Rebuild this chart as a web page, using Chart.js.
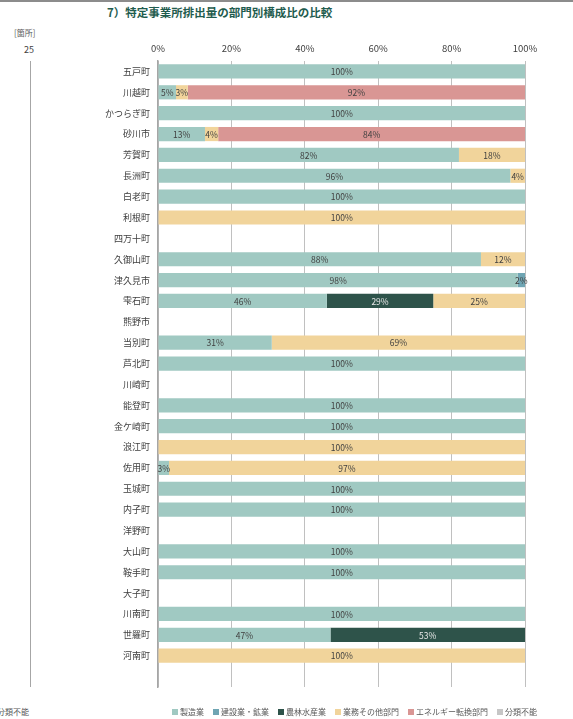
<!DOCTYPE html>
<html>
<head>
<meta charset="utf-8">
<script src="https://cdn.jsdelivr.net/npm/chart.js@4"></script>
<style>
  body { margin: 0; width: 573px; height: 719px; overflow: hidden; background: #fff;
         font-family: "Noto Sans CJK JP", "Noto Sans", sans-serif; position: relative; }
  .abs { position: absolute; white-space: nowrap; }
  #topline { left: 0; top: 0; width: 573px; height: 2px; background: #8c8c8c; }
  #title { left: 107px; top: 4px; font-size: 11.5px; font-weight: bold; color: #1f5c4e; }
  #unit { left: 14px; top: 27px; font-size: 8px; color: #595959; }
  #n25 { left: 24px; top: 43px; font-size: 9px; color: #404040; }
  #vline { left: 30px; top: 61px; width: 1px; height: 626px; background: #a6a6a6; }
  #oldleg { left: -3px; top: 706px; font-size: 8px; color: #595959; }
  #legend { left: 172px; top: 706px; display: flex; font-size: 8px; color: #595959; }
  #legend span.item { display: flex; align-items: center; margin-right: 9px; }
  #legend span.sw { width: 6px; height: 6px; margin-right: 2px; display: inline-block; }
  #cv { position: absolute; left: 0; top: 0; }
</style>
</head>
<body>
<div class="abs" id="topline"></div>
<div class="abs" id="title">7）特定事業所排出量の部門別構成比の比較</div>
<div class="abs" id="unit">[箇所]</div>
<div class="abs" id="n25">25</div>
<div class="abs" id="vline"></div>
<div class="abs" id="oldleg">分類不能</div>
<canvas id="cv" width="573" height="719"></canvas>
<div class="abs" id="legend"></div>
<script>
// categories (last one is an empty spacer row, as in the source figure)
const towns = ['五戸町', '川越町', 'かつらぎ町', '砂川市', '芳賀町', '長洲町', '白老町', '利根町', '四万十町', '久御山町',
  '津久見市', '雫石町', '熊野市', '当別町', '芦北町', '川崎町', '能登町', '金ケ崎町', '浪江町', '佐用町',
  '玉城町', '内子町', '洋野町', '大山町', '鞍手町', '大子町', '川南町', '世羅町', '河南町', ''];

const sectorNames = ['製造業', '建設業・鉱業', '農林水産業', '業務その他部門', 'エネルギー転換部門', '分類不能'];
const sectorColors = ['#a0c9c2', '#6fa5b3', '#2e534a', '#f1d49b', '#d99694', '#c6c6c6'];

// share of emissions (%) per town
const manufacturing = [100, 4.9, 100, 12.8, 82, 96, 100, 0, 0, 88, 98, 46, 0, 31, 100, 0, 100, 100, 0, 3, 100, 100, 0, 100, 100, 0, 100, 47, 0];
const construction  = [0, 0, 0, 0, 0, 0, 0, 0, 0, 0, 2, 0, 0, 0, 0, 0, 0, 0, 0, 0, 0, 0, 0, 0, 0, 0, 0, 0, 0];
const agriculture   = [0, 0, 0, 0, 0, 0, 0, 0, 0, 0, 0, 29, 0, 0, 0, 0, 0, 0, 0, 0, 0, 0, 0, 0, 0, 0, 0, 53, 0];
const commercial    = [0, 3.2, 0, 3.6, 18, 4, 0, 100, 0, 12, 0, 25, 0, 69, 0, 0, 0, 0, 100, 97, 0, 0, 0, 0, 0, 0, 0, 0, 100];
const energy        = [0, 91.9, 0, 83.6, 0, 0, 0, 0, 0, 0, 0, 0, 0, 0, 0, 0, 0, 0, 0, 0, 0, 0, 0, 0, 0, 0, 0, 0, 0];
const unclassified  = [0, 0, 0, 0, 0, 0, 0, 0, 0, 0, 0, 0, 0, 0, 0, 0, 0, 0, 0, 0, 0, 0, 0, 0, 0, 0, 0, 0, 0];

const xTicks = ['0%', '20%', '40%', '60%', '80%', '100%'];

const series = [manufacturing, construction, agriculture, commercial, energy, unclassified];
const labelColors = ['#404040', '#404040', '#e8e8e8', '#404040', '#404040', '#404040'];

const FONT = '"Noto Sans CJK JP", "Noto Sans", sans-serif';

// draws the % inside each segment
const segmentLabels = {
  id: 'segmentLabels',
  afterDatasetsDraw(chart) {
    const ctx = chart.ctx;
    ctx.save();
    ctx.font = '8.5px ' + FONT;
    ctx.textAlign = 'center';
    ctx.textBaseline = 'middle';
    chart.data.datasets.forEach((ds, i) => {
      const meta = chart.getDatasetMeta(i);
      meta.data.forEach((bar, j) => {
        const v = ds.data[j];
        if (!v) return;
        ctx.fillStyle = labelColors[i];
        ctx.fillText(Math.round(v) + '%', (bar.x + bar.base) / 2, bar.y + 0.5);
      });
    });
    ctx.restore();
  }
};

new Chart(document.getElementById('cv'), {
  type: 'bar',
  data: {
    labels: towns,
    datasets: series.map((d, i) => ({
      label: sectorNames[i],
      data: d,
      backgroundColor: sectorColors[i],
      borderWidth: 0,
      barPercentage: 0.68,
      categoryPercentage: 1
    }))
  },
  options: {
    indexAxis: 'y',
    responsive: false,
    animation: false,
    layout: { padding: { top: 40, right: 48, bottom: 32, left: 0 } },
    plugins: { legend: { display: false }, tooltip: { enabled: false } },
    scales: {
      x: {
        position: 'top',
        stacked: true,
        min: 0, max: 100,
        afterFit: s => { s.height = 21; },
        afterBuildTicks: s => { s.ticks = xTicks.map(t => ({ value: parseInt(t) })); },
        ticks: {
          callback: (v, i) => xTicks[i],
          font: { size: 9.5, family: FONT }, color: '#404040', padding: 7
        },
        grid: { color: '#c0c0c0', lineWidth: 1, drawTicks: false },
        border: { display: false }
      },
      y: {
        stacked: true,
        afterFit: s => { s.width = 158; },
        ticks: { font: { size: 9, family: FONT }, color: '#404040', padding: 8, autoSkip: false },
        grid: { display: false, drawTicks: false },
        border: { color: '#a6a6a6', width: 1.5 }
      }
    }
  },
  plugins: [segmentLabels]
});

// legend under the chart
const legend = document.getElementById('legend');
sectorNames.forEach((n, i) => {
  const item = document.createElement('span');
  item.className = 'item';
  item.innerHTML = '<span class="sw" style="background:' + sectorColors[i] + '"></span>' + n;
  legend.appendChild(item);
});
</script>
</body>
</html>
